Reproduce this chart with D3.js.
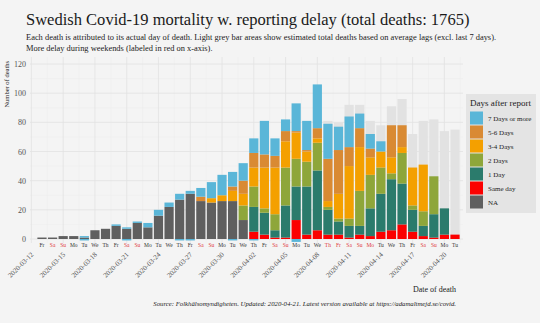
<!DOCTYPE html>
<html>
<head>
<meta charset="utf-8">
<script src="https://cdn.jsdelivr.net/npm/d3@7"></script>
<style>
  body { margin: 0; background: #f4f4f4; }
  svg { display: block; font-family: "Liberation Serif", "DejaVu Serif", serif; }
</style>
</head>
<body>
<div id="chart"></div>
<script>
// dates of death, one bar each
const dates = [
  "2020-03-13","2020-03-14","2020-03-15","2020-03-16","2020-03-17","2020-03-18","2020-03-19","2020-03-20",
  "2020-03-21","2020-03-22","2020-03-23","2020-03-24","2020-03-25","2020-03-26","2020-03-27","2020-03-28",
  "2020-03-29","2020-03-30","2020-03-31","2020-04-01","2020-04-02","2020-04-03","2020-04-04","2020-04-05",
  "2020-04-06","2020-04-07","2020-04-08","2020-04-09","2020-04-10","2020-04-11","2020-04-12","2020-04-13",
  "2020-04-14","2020-04-15","2020-04-16","2020-04-17","2020-04-18","2020-04-19","2020-04-20","2020-04-21"
];
const holidays = ["2020-04-09", "2020-04-10", "2020-04-13"];
const dateTicks = ["2020-03-12","2020-03-15","2020-03-18","2020-03-21","2020-03-24","2020-03-27","2020-03-30",
  "2020-04-02","2020-04-05","2020-04-08","2020-04-11","2020-04-14","2020-04-17","2020-04-20"];
const yTicks = [0, 20, 40, 60, 80, 100, 120];

// deaths by reporting delay
const naDeaths   = [1,1,2,2,1,6,7,9,7,11,8,16,22,27,31,26,25,26,26,13, 0,0,0,0,0,0,0,0,0,0,0,0,0,0,0,0,0,0,0,0];
const sameDay    = [0,0,0,0,0,0,0,0,0,0,0,0,0,0,0,0,0,0,0,0, 5,3,1,1,13,3,6,3,3,1,3,2,5,6,10,5,2,1,3,3];
const oneDay     = [0,0,0,0,0,0,0,0,0,0,0,0,0,0,0,0,0,0,0,0, 17,15,5,22,23,33,41,17,9,8,6,19,26,35,28,15,7,16,18,0];
const twoDays    = [0,0,0,0,0,0,0,0,0,0,0,0,0,0,0,0,0,0,0,10, 14,3,11,26,19,17,19,2,2,5,24,23,18,4,21,3,10,26,0,0];
const threeFour  = [0,0,0,0,0,0,0,0,0,0,0,0,0,0,0,0,3,4,7,8, 13,28,32,18,18,7,3,4,17,36,30,12,11,11,4,26,32,0,0,0];
const fiveSix    = [0,0,0,0,0,0,0,0,0,0,0,0,0,0,0,3,0,0,3,9, 10,9,8,7,1,1,7,29,30,13,13,6,0,22,15,0,0,0,0,0];
const sevenPlus  = [0,0,0,0,1,0,0,1,1,1,3,4,3,4,2,6,11,14,10,12, 10,23,12,8,19,20,30,24,16,21,10,10,7,0,0,0,0,0,0,0];
const corrections = [0,0,0,0,-1,0,0,0,-1,0,0,0,0,-1,-1,0,0,0,-1,0, -1,0,0,0,-2,0,0,0,0,0,0,0,0,0,0,0,0,0,0,0];
// estimated total (light grey), 0 = not shown
const estTotal   = [0,0,0,0,0,0,0,0,0,0,0,0,0,0,0,0,0,0,0,0, 0,0,0,0,0,0,0,81,80,92,92,81,78,91,96,72,81,82,74,75];

const categories = ["NA", "Same day", "1 Day", "2 Days", "3-4 Days", "5-6 Days", "7 Days or more"];
const series = [naDeaths, sameDay, oneDay, twoDays, threeFour, fiveSix, sevenPlus];
const colors = ["#5f5f5f", "#fb0000", "#2b7b6c", "#8ea63a", "#f4a000", "#d98a33", "#5ab6d8"];

const W = 540, H = 323;
const panel = {left: 30, right: 463, top: 57, bottom: 243};
const parse = d3.utcParse("%Y-%m-%d");

const rows = dates.map((d, i) => {
  const r = {date: parse(d), key: d};
  categories.forEach((c, j) => r[c] = series[j][i]);
  r.neg = corrections[i];
  r.est = estTotal[i];
  return r;
});

const svg = d3.select("#chart").append("svg").attr("width", W).attr("height", H);
svg.append("rect").attr("width", W).attr("height", H).attr("fill", "#f4f4f4");

const x = d3.scaleUtc()
  .domain([parse("2020-03-12"), parse("2020-04-22")])
  .range([31.4, 465.6]);
const y = d3.scaleLinear().domain([0, 120]).range([239, 64]);
const color = d3.scaleOrdinal(categories, colors);
const bw = 9.2;

function fitWidth(sel, w) {
  const len = sel.node().getComputedTextLength();
  sel.attr("font-size", parseFloat(sel.attr("font-size")) * w / len);
}

// grid
const grid = svg.append("g");
grid.selectAll(".hminor").data(yTicks.slice(0, -1).map(v => v + 10)).join("line")
  .attr("x1", panel.left).attr("x2", panel.right)
  .attr("y1", d => y(d)).attr("y2", d => y(d))
  .attr("stroke", "#ececec").attr("stroke-width", 0.5);
grid.selectAll(".vminor").data(dateTicks.map(d => d3.utcHour.offset(parse(d), 36))).join("line")
  .attr("x1", d => x(d)).attr("x2", d => x(d))
  .attr("y1", panel.top).attr("y2", panel.bottom)
  .attr("stroke", "#ececec").attr("stroke-width", 0.5);
grid.selectAll(".h").data(yTicks).join("line")
  .attr("x1", panel.left).attr("x2", panel.right)
  .attr("y1", d => y(d)).attr("y2", d => y(d))
  .attr("stroke", "#e2e2e2").attr("stroke-width", 0.8);
grid.selectAll(".v").data(dateTicks).join("line")
  .attr("x1", d => x(parse(d))).attr("x2", d => x(parse(d)))
  .attr("y1", panel.top).attr("y2", panel.bottom)
  .attr("stroke", "#e2e2e2").attr("stroke-width", 0.8);

// estimated totals
svg.append("g").selectAll("rect").data(rows.filter(r => r.est > 0)).join("rect")
  .attr("x", d => x(d.date) - bw / 2).attr("width", bw)
  .attr("y", d => y(d.est)).attr("height", d => y(0) - y(d.est))
  .attr("fill", "#e2e2e2");

// stacked bars
const stacked = d3.stack().keys(categories)(rows);
svg.append("g").selectAll("g").data(stacked).join("g")
  .attr("fill", d => color(d.key))
  .selectAll("rect").data(d => d.filter(s => s[1] > s[0])).join("rect")
  .attr("x", d => x(d.data.date) - bw / 2).attr("width", bw)
  .attr("y", d => y(d[1])).attr("height", d => y(d[0]) - y(d[1]));

// late corrections below zero
svg.append("g").selectAll("rect").data(rows.filter(r => r.neg < 0)).join("rect")
  .attr("x", d => x(d.date) - bw / 2).attr("width", bw)
  .attr("y", y(0)).attr("height", d => y(d.neg) - y(0))
  .attr("fill", color("7 Days or more"));

// y axis
const yAxis = svg.append("g").attr("transform", `translate(${panel.left - 2},0)`)
  .call(d3.axisLeft(y).tickValues(yTicks).tickSize(0).tickPadding(2));
yAxis.select(".domain").remove();
yAxis.selectAll("text").attr("font-family", "Liberation Serif").attr("font-size", 8).attr("fill", "#555");

svg.append("text").attr("transform", "translate(9,61) rotate(-90)")
  .attr("text-anchor", "end").attr("font-size", 6.5).attr("fill", "#222")
  .text("Number of deaths");

// weekday labels
const isRed = d => holidays.includes(d.key) || d.date.getUTCDay() === 0 || d.date.getUTCDay() === 6;
svg.append("g").selectAll("text").data(rows).join("text")
  .attr("x", d => x(d.date)).attr("y", 247)
  .attr("text-anchor", "middle").attr("font-size", 5.5)
  .attr("fill", d => isRed(d) ? "#e0393e" : "#333")
  .text(d => d3.utcFormat("%a")(d.date).slice(0, 2));

// date labels
svg.append("g").selectAll("text").data(dateTicks).join("text")
  .attr("transform", d => `translate(${x(parse(d)) + 2.5},255) rotate(-45)`)
  .attr("text-anchor", "end").attr("font-size", 7).attr("fill", "#555")
  .text(d => d);

svg.append("text").attr("x", 456).attr("y", 292).attr("text-anchor", "end")
  .attr("font-size", 8).attr("fill", "#222").text("Date of death");

// title & subtitle
const title = svg.append("text").attr("x", 26).attr("y", 25).attr("font-size", 17).attr("fill", "#1a1a1a")
  .text("Swedish Covid-19 mortality w. reporting delay (total deaths: 1765)");
fitWidth(title, 444);
const sub1 = svg.append("text").attr("x", 26).attr("y", 40).attr("font-size", 8.5).attr("fill", "#222")
  .text("Each death is attributed to its actual day of death. Light grey bar areas show estimated total deaths based on average lags (excl. last 7 days).");
fitWidth(sub1, 471);
const sub2 = svg.append("text").attr("x", 26).attr("y", 51).attr("font-size", 8.5).attr("fill", "#222")
  .text("More delay during weekends (labeled in red on x-axis).");
fitWidth(sub2, 187);

// caption
const cap = svg.append("text").attr("x", 456).attr("y", 306).attr("text-anchor", "end")
  .attr("font-size", 7.5).attr("font-style", "italic").attr("fill", "#222")
  .text("Source: Folkhälsomyndigheten. Updated: 2020-04-21. Latest version available at https://adamaltmejd.se/covid.");
fitWidth(cap, 303);

// legend
const legend = svg.append("g").attr("transform", "translate(466,94)");
legend.append("rect").attr("width", 70).attr("height", 119).attr("fill", "#e4e4e4");
legend.append("text").attr("x", 4).attr("y", 12).attr("font-size", 9).attr("fill", "#222")
  .text("Days after report");
const items = legend.selectAll(".item").data(categories.slice().reverse()).join("g")
  .attr("transform", (d, i) => `translate(4,${17.5 + i * 14})`);
items.append("rect").attr("width", 13).attr("height", 13).attr("fill", d => color(d));
items.append("text").attr("x", 18).attr("y", 9).attr("font-size", 7).attr("fill", "#222").text(d => d);
</script>
</body>
</html>
